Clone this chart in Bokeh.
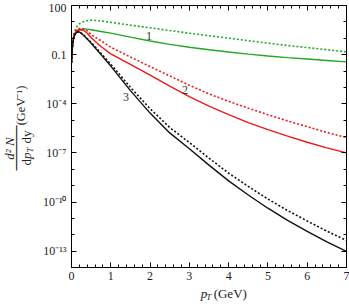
from math import pi
from bokeh.plotting import figure
from bokeh.layouts import row, column
from bokeh.models import (FixedTicker, CustomJSTickFormatter, LinearAxis, LogAxis,
                          Label, Range1d)
from bokeh.embed import file_html
from bokeh.resources import INLINE

# ---- data ----
pt = [0.0, 0.03, 0.07, 0.12, 0.17, 0.2, 0.3, 0.4, 0.5, 0.75, 1.0, 1.5, 2.0, 2.5,
      3.0, 3.5, 4.0, 4.5, 5.0, 5.5, 6.0, 6.5, 7.0]

green_solid = [0.032, 0.50, 1.58, 2.51, 3.02, 3.31, 3.72, 3.63, 3.31, 2.57, 2.04, 1.17,
               0.68, 0.42, 0.28, 0.20, 0.145, 0.107, 0.083, 0.066, 0.054, 0.044, 0.036]
green_dotted = [0.032, 0.63, 2.24, 4.47, 6.31, 7.59, 10.0, 11.7, 12.6, 11.5, 9.33, 6.31,
                4.37, 2.95, 2.04, 1.41, 1.0, 0.71, 0.50, 0.36, 0.27, 0.20, 0.148]
red_solid = [0.032, 0.56, 1.58, 2.63, 3.16, 3.31, 3.16, 2.0, 1.07, 0.316, 0.112, 0.0251,
             5.62e-3, 1.20e-3, 2.69e-4, 7.08e-5, 2.14e-5, 7.08e-6, 2.63e-6, 1.05e-6,
             4.47e-7, 2.04e-7, 1.0e-7]
red_dotted = [0.032, 0.63, 2.0, 3.16, 3.80, 3.98, 3.80, 2.82, 1.66, 0.71, 0.282, 0.0708,
              0.0186, 5.01e-3, 1.35e-3, 3.98e-4, 1.41e-4, 5.37e-5, 2.14e-5, 8.91e-6,
              3.98e-6, 1.78e-6, 8.51e-7]
black_solid = [0.032, 0.50, 1.41, 2.14, 2.45, 2.40, 1.58, 0.89, 0.50, 0.10, 0.020, 6.31e-4,
               2.69e-5, 1.66e-6, 1.78e-7, 1.78e-8, 1.95e-9, 2.69e-10, 4.17e-11, 7.59e-12,
               1.62e-12, 3.72e-13, 9.55e-14]
black_dotted = [0.032, 0.52, 1.48, 2.24, 2.57, 2.51, 1.66, 0.95, 0.56, 0.12, 0.0263, 1.0e-3,
                5.01e-5, 3.55e-6, 4.27e-7, 4.79e-8, 5.75e-9, 8.91e-10, 1.51e-10, 3.02e-11,
                6.92e-12, 1.66e-12, 4.47e-13]

curve_labels = ["1", "2", "3"]
curve_label_x = [1.97, 2.89, 1.39]
curve_label_y = [1.35, 6.8e-4, 2.7e-4]

x_ticks = [0, 1, 2, 3, 4, 5, 6, 7]
x_minor = [0.2, 0.4, 0.6, 0.8, 1.2, 1.4, 1.6, 1.8, 2.2, 2.4, 2.6, 2.8, 3.2, 3.4, 3.6, 3.8,
           4.2, 4.4, 4.6, 4.8, 5.2, 5.4, 5.6, 5.8, 6.2, 6.4, 6.6, 6.8]
y_ticks = [1e-13, 1e-10, 1e-7, 1e-4, 1e-1, 1e2]
y_tick_labels = ["10\u207b\u00b9\u00b3", "10\u207b\u00b9\u2070", "10\u207b\u2077",
                 "10\u207b\u2074", "0.1", "100"]
y_minor = [1e-14, 1e-12, 1e-11, 1e-9, 1e-8, 1e-6, 1e-5, 1e-3, 1e-2, 1.0, 10.0]

GREEN = "#22a822"
RED = "#f01818"
BLACK = "#111111"
TXT = "#222222"
SERIF = "Liberation Serif"

# ---------------- main plot ----------------
p = figure(width=313, height=284, x_range=Range1d(0, 7), y_range=Range1d(1e-14, 1e2),
           y_axis_type="log", output_backend="svg", toolbar_location=None,
           min_border_left=35, min_border_right=3, min_border_top=5, min_border_bottom=17,
           background_fill_color="white", border_fill_color="white")
p.xgrid.visible = False
p.ygrid.visible = False
p.outline_line_color = "black"
p.outline_line_width = 1

bottom = p.below[0]
left = p.left[0]

xt = FixedTicker(ticks=x_ticks, minor_ticks=x_minor)
yt = FixedTicker(ticks=y_ticks, minor_ticks=y_minor)
bottom.ticker = xt
left.ticker = yt
left.formatter = CustomJSTickFormatter(
    args=dict(tvals=y_ticks, tlabels=y_tick_labels), code="""
let best = 0, bd = 1e9;
for (let i = 0; i < tvals.length; i++) {
  const d = Math.abs(Math.log10(tvals[i]) - Math.log10(tick));
  if (d < bd) { bd = d; best = i; }
}
return tlabels[best];
""")

top = LinearAxis(ticker=xt)
right = LogAxis(ticker=yt)
for ax in (top, right):
    ax.major_label_text_font_size = "1px"
    ax.major_label_text_alpha = 0
    ax.major_label_standoff = 0
p.add_layout(top, "above")
p.add_layout(right, "right")

for ax in (bottom, left, top, right):
    ax.major_tick_in = 5
    ax.major_tick_out = 0
    ax.minor_tick_in = 3
    ax.minor_tick_out = 0
    ax.axis_line_color = "black"
    ax.major_tick_line_color = "black"
    ax.minor_tick_line_color = "black"
    ax.axis_line_width = 1

for ax in (bottom, left):
    ax.major_label_text_font = SERIF
    ax.major_label_text_font_size = "12px"
    ax.major_label_text_color = TXT
left.major_label_standoff = 5
bottom.major_label_standoff = 4

p.line(pt, green_dotted, line_color=GREEN, line_width=1.6, line_dash="2 2")
p.line(pt, green_solid, line_color=GREEN, line_width=1.4)
p.line(pt, red_dotted, line_color=RED, line_width=1.6, line_dash="2 2")
p.line(pt, red_solid, line_color=RED, line_width=1.4)
p.line(pt, black_dotted, line_color=BLACK, line_width=1.6, line_dash="2 2")
p.line(pt, black_solid, line_color=BLACK, line_width=1.4)

for t, lx, ly in zip(curve_labels, curve_label_x, curve_label_y):
    p.add_layout(Label(x=lx, y=ly, text=t, text_font=SERIF, text_font_size="12px",
                       text_color="#333333", text_align="center", text_baseline="middle"))


# ---------------- title strips (pixel coordinates) ----------------
def strip(w, h):
    f = figure(width=w, height=h, x_range=Range1d(0, w), y_range=Range1d(0, h),
               output_backend="svg", toolbar_location=None, min_border=0,
               x_axis_location=None, y_axis_location=None,
               background_fill_color="white", border_fill_color="white")
    f.outline_line_color = None
    f.grid.visible = False
    return f


def lab(f, text, x, y, size="13px", style="normal", font=SERIF, align="center",
        baseline="middle", angle=0.0):
    f.add_layout(Label(x=x, y=y, text=text, text_font=font, text_font_size=size,
                       text_font_style=style, text_align=align, text_baseline=baseline,
                       angle=angle, text_color=TXT))


# y title: d^2N / (dp_T dy) (GeV^-1), rotated
yf = strip(36, 304)
lab(yf, "d\u00b2 N", 8.5, 156, style="italic", angle=pi / 2)
lab(yf, "\u2500\u2500\u2500\u2500\u2500\u2500", 15.7, 156.5, size="12.5px",
    font="DejaVu Sans Mono", angle=pi / 2)
lab(yf, "d", 26.0, 139, align="left", angle=pi / 2)
lab(yf, "p", 26.0, 145.5, style="italic", align="left", angle=pi / 2)
lab(yf, "T", 29.3, 152, size="9px", style="italic", align="left", angle=pi / 2)
lab(yf, "dy", 26.0, 161, align="left", angle=pi / 2)
lab(yf, "(GeV\u207b\u00b9)", 20.5, 199, size="12.5px", angle=pi / 2)

# x title: p_T (GeV)
xf = strip(313, 20)
lab(xf, "p", 147, 11, style="italic", align="left")
lab(xf, "T", 153.5, 8, size="9px", style="italic", align="left")
lab(xf, "(GeV)", 161.8, 11, align="left")

layout = row(yf, column(p, xf))
open("out.html", "w").write(file_html(layout, INLINE))
